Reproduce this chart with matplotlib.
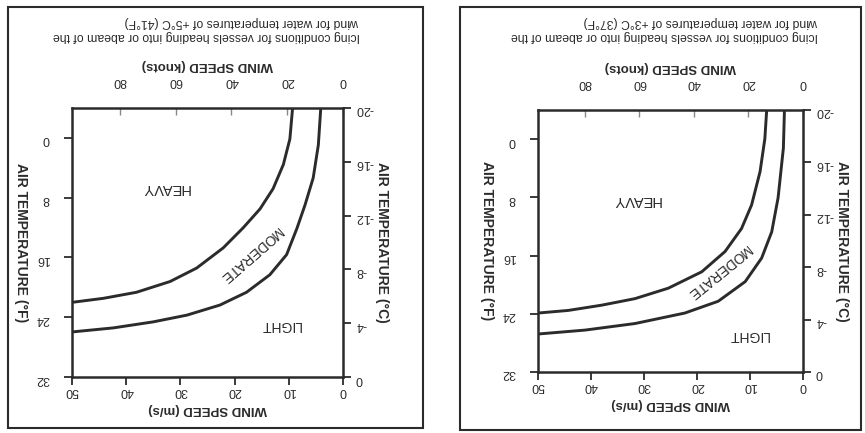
import numpy as np
import matplotlib
matplotlib.use('Agg')
import matplotlib.pyplot as plt
from matplotlib.patches import Rectangle

plt.rcParams['font.family'] = ['Liberation Sans', 'DejaVu Sans']
plt.rcParams['axes.unicode_minus'] = False

# data: wind speed (m/s) vs air temperature (deg C) along the class boundaries
# left panel, water at +5 C
p1_upper_ms = [9.3, 9.8, 11.0, 12.9, 15.3, 18.4, 22.1, 27.0, 31.9, 38.1, 44.2, 50]
p1_upper_c = [-20, -17.7, -15.8, -14.0, -12.5, -11.1, -9.6, -8.1, -7.1, -6.3, -5.85, -5.55]
p1_lower_ms = [4.1, 4.55, 5.5, 7.0, 8.5, 10.4, 13.5, 17.8, 22.7, 28.8, 35.0, 42.4, 50]
p1_lower_c = [-20, -17.25, -14.8, -12.8, -11.05, -9.1, -7.6, -6.3, -5.35, -4.6, -4.1, -3.65, -3.35]
# right panel, water at +3 C
p2_upper_ms = [6.85, 7.2, 8.1, 9.7, 11.6, 14.7, 19.1, 25.4, 31.7, 38.0, 44.3, 50]
p2_upper_c = [-20, -17.8, -15.3, -12.75, -10.95, -9.2, -7.65, -6.4, -5.6, -5.1, -4.7, -4.5]
p2_lower_ms = [3.5, 3.7, 4.7, 5.9, 7.8, 10.9, 16.0, 22.3, 31.7, 41.1, 50]
p2_lower_c = [-20, -17.1, -13.3, -10.7, -8.7, -6.9, -5.4, -4.5, -3.7, -3.2, -2.9]

captions = ['Icing conditions for vessels heading into or abeam of the\nwind for water temperatures of +5\u00b0C (41\u00b0F)',
            'Icing conditions for vessels heading into or abeam of the\nwind for water temperatures of +3\u00b0C (37\u00b0F)']
ms_ticks = [0, 10, 20, 30, 40, 50]
kt_ticks = [0, 20, 40, 60, 80]
c_ticks = [-20, -16, -12, -8, -4, 0]
f_ticks = [0, 8, 16, 24, 32]

INK = '#2b2b2b'
W, H = 865, 433


def fx(px):
    return px / W


def fy(py):
    return 1 - py / H


def panel(fig, box, border, upper, lower, caption, cap_xy, heavy, moder, light, mod_rot):
    x0, y0, x1, y1 = box
    ax = fig.add_axes([fx(x0), fy(y1), fx(x1 - x0), fy(y0) - fy(y1)])
    ax.plot(upper[0], upper[1], color=INK, lw=2.1, solid_capstyle='butt', solid_joinstyle='round')
    ax.plot(lower[0], lower[1], color=INK, lw=2.1, solid_capstyle='butt', solid_joinstyle='round')
    ax.set_xlim(50, 0)
    ax.set_ylim(0, -20)
    ax.set_xticks(ms_ticks)
    ax.set_yticks(c_ticks)
    ax.yaxis.tick_right()
    ax.yaxis.set_label_position('right')
    for s in ax.spines.values():
        s.set_color(INK)
        s.set_linewidth(1.8)
    ax.tick_params(direction='out', length=6, width=1.3, color=INK, labelsize=9,
                   labelcolor=INK, labelrotation=180, pad=3)
    ax.tick_params(axis='x', pad=0)
    ax.set_xlabel('WIND SPEED (m/s)', rotation=180, fontsize=9.5, fontweight='bold',
                  color=INK, labelpad=4)
    ax.set_ylabel('AIR TEMPERATURE (\u00b0C)', rotation=270, fontsize=10, fontweight='bold',
                  color=INK, labelpad=6, va='center')

    top = ax.secondary_xaxis('top', functions=(lambda v: v * 1.94384, lambda v: v / 1.94384))
    top.set_xticks(kt_ticks)
    top.tick_params(direction='in', length=5, width=1.0, color='#888888', labelsize=9,
                    labelcolor=INK, labelrotation=180, pad=15)
    top.set_xlabel('WIND SPEED (knots)', rotation=180, fontsize=9.5, fontweight='bold',
                   color=INK, labelpad=5)
    top.spines['top'].set_visible(False)

    left = ax.secondary_yaxis('left', functions=(lambda c: c * 9 / 5 + 32, lambda f: (f - 32) * 5 / 9))
    left.set_yticks(f_ticks)
    left.tick_params(direction='out', length=6, width=1.3, color=INK, labelsize=9,
                     labelcolor=INK, labelrotation=180, pad=10)
    left.set_ylabel('AIR TEMPERATURE (\u00b0F)', rotation=270, fontsize=10, fontweight='bold',
                    color=INK, labelpad=11, va='center')
    left.spines['left'].set_visible(False)

    ax.text(heavy[0], heavy[1], 'HEAVY', rotation=180, ha='center', va='center',
            fontsize=10.5, color=INK)
    ax.text(moder[0], moder[1], 'MODERATE', rotation=mod_rot, ha='center', va='center',
            fontsize=10, color=INK, rotation_mode='anchor')
    ax.text(light[0], light[1], 'LIGHT', rotation=180, ha='center', va='center',
            fontsize=10, color=INK)

    fig.text(fx(cap_xy[0]), fy(cap_xy[1]), caption, rotation=180, ha='center', va='center',
             multialignment='left', fontsize=8.8, color=INK, linespacing=1.2)

    bx0, by0, bx1, by1 = border
    fig.patches.append(Rectangle((fx(bx0), fy(by1)), fx(bx1 - bx0), fy(by0) - fy(by1),
                                 transform=fig.transFigure, fill=False, edgecolor=INK, lw=1.5))
    return ax


fig = plt.figure(figsize=(8.65, 4.33), dpi=100)
fig.patch.set_facecolor('white')

panel(fig, (72, 108, 343, 377), (8, 7, 423, 428), (p1_upper_ms, p1_upper_c),
      (p1_lower_ms, p1_lower_c), captions[0], (206, 29),
      (32.8, -14.05), (17.2, -9.1), (11.6, -3.9), 221)
panel(fig, (538, 110, 803, 372), (460, 7, 861, 430), (p2_upper_ms, p2_upper_c),
      (p2_lower_ms, p2_lower_c), captions[1], (665, 29),
      (31.4, -13.1), (16.0, -7.65), (10.3, -2.8), 219)

fig.savefig('out.png', dpi=100, facecolor='white')
